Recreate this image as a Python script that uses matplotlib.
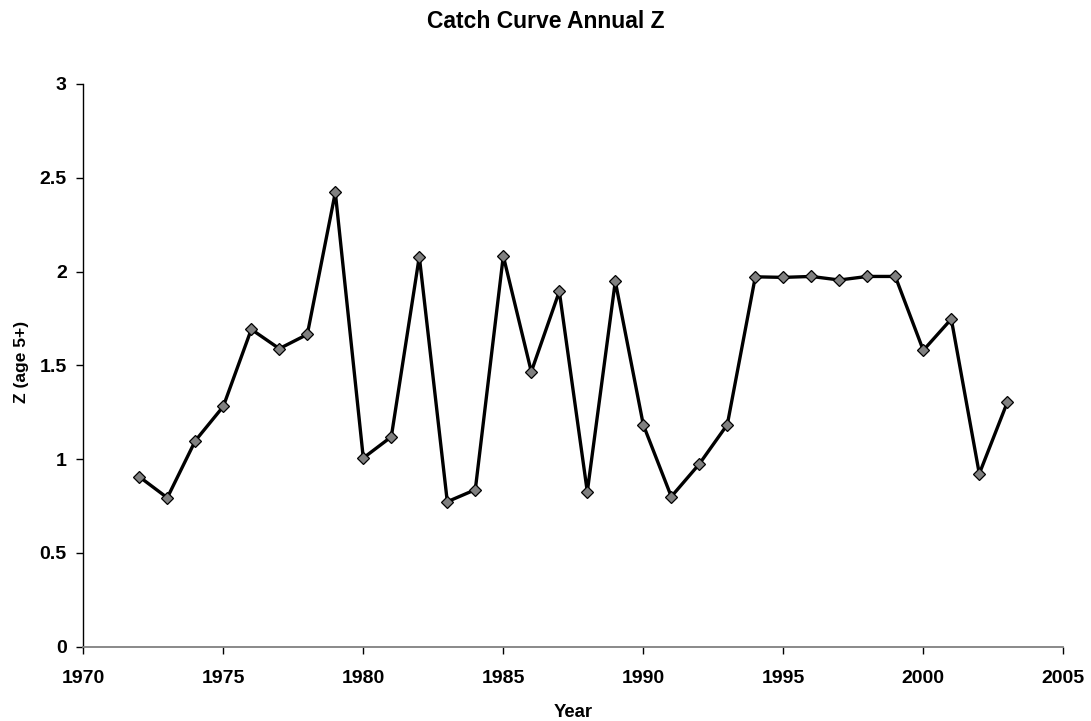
'''
Catch curve annual Z, age 5+.
'''

import matplotlib
matplotlib.use('Agg')
import matplotlib.pyplot as plt

plt.rcParams['font.family'] = ['Liberation Sans', 'DejaVu Sans']
plt.rcParams['font.weight'] = 'bold'

# data
years = list(range(1972, 2004))
z_values = [0.906, 0.794, 1.098, 1.281, 1.692, 1.589, 1.665, 2.422,
            1.006, 1.119, 2.080, 0.773, 0.837, 2.083, 1.466, 1.894,
            0.826, 1.948, 1.183, 0.800, 0.974, 1.184, 1.972, 1.969,
            1.974, 1.955, 1.974, 1.974, 1.580, 1.747, 0.922, 1.303]

x_ticks = [1970, 1975, 1980, 1985, 1990, 1995, 2000, 2005]
y_ticks = [0, 0.5, 1, 1.5, 2, 2.5, 3]
y_labels = ['0', '0.5', '1', '1.5', '2', '2.5', '3']

W, H = 1091, 721
fig = plt.figure(figsize=(W / 100, H / 100), dpi=100)
# plot area: x 83..1063 px, y 84..647 px
ax = fig.add_axes([83.3 / W, (H - 646.7) / H, 980 / W, 562.7 / H])

ax.plot(years, z_values, color='black', linewidth=2.4,
        marker='D', markersize=6.5, markerfacecolor='#808080',
        markeredgecolor='black', markeredgewidth=0.9, zorder=3)

ax.set_xlim(1970, 2005)
ax.set_ylim(0, 3)
ax.set_xticks(x_ticks)
ax.set_yticks(y_ticks)
ax.set_yticklabels(y_labels)

for side in ['top', 'right']:
    ax.spines[side].set_visible(False)
ax.spines['left'].set_color('black')
ax.spines['bottom'].set_color('#808080')
ax.spines['left'].set_linewidth(1)
ax.spines['bottom'].set_linewidth(1.3)

ax.tick_params(direction='out', length=5, width=1, color='black',
               labelsize=14)
ax.tick_params(axis='x', pad=11.5)
ax.tick_params(axis='y', pad=7)
for lab in ax.get_xticklabels() + ax.get_yticklabels():
    lab.set_fontweight('bold')

# titles placed by pixel
fig.text(0.5, (H - 28) / H, 'Catch Curve Annual Z', ha='center',
         va='baseline', fontsize=16.5, fontweight='bold')
fig.text((583 - 10) / W, (H - 717) / H, 'Year', ha='center',
         va='baseline', fontsize=13.3, fontweight='bold')
fig.text(22 / W, (H - 362) / H, 'Z (age 5+)', ha='center', va='center',
         rotation=90, fontsize=12.5, fontweight='bold')

fig.savefig('out.png', dpi=100)
plt.close()
